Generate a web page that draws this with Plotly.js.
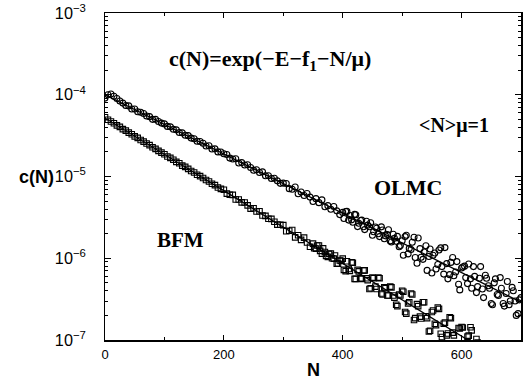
<!DOCTYPE html>
<html>
<head>
<meta charset="utf-8">
<script src="https://cdn.plot.ly/plotly-3.0.1.min.js"></script>
<style>
  html, body { margin: 0; padding: 0; background: #fff; }
  #chart { width: 523px; height: 379px; }
</style>
</head>
<body>
<div id="chart"></div>
<script>
// Chain length grids (step 5) for the two simulation methods
const nStep = 5;
const olmcN = Array.from({length: 141}, (_, i) => i * nStep);        // 0 … 700
const bfmN  = Array.from({length: 127}, (_, i) => i * nStep);        // 0 … 630
// extra samples in the noisy tails
const olmcTailN = Array.from({length: 60}, (_, i) => 402 + i * nStep); // 402 … 697
const bfmTailN  = Array.from({length: 56}, (_, i) => 352 + i * nStep); // 352 … 627

// OLMC: concentration c(N)
const olmcC = [
  9.1e-5, 1.00e-4, 1.02e-4, 9.6e-5, 9.0e-5, 8.4e-5, 7.9e-5, 7.4e-5, 7.3e-5, 6.7e-5,
  6.7e-5, 6.2e-5, 6.1e-5, 5.9e-5, 5.5e-5, 5.4e-5, 5.0e-5, 5.0e-5, 4.7e-5, 4.5e-5,
  4.4e-5, 4.1e-5, 4.05e-5, 3.78e-5, 3.72e-5, 3.45e-5, 3.42e-5, 3.19e-5, 3.16e-5, 2.95e-5,
  2.90e-5, 2.70e-5, 2.68e-5, 2.55e-5, 2.36e-5, 2.38e-5, 2.17e-5, 2.18e-5, 2.00e-5, 1.99e-5,
  1.90e-5, 1.86e-5, 1.68e-5, 1.64e-5, 1.65e-5, 1.46e-5, 1.48e-5, 1.38e-5, 1.39e-5, 1.29e-5,
  1.19e-5, 1.21e-5, 1.12e-5, 1.14e-5, 1.02e-5, 1.02e-5, 9.45e-6, 9.52e-6, 8.85e-6, 8.24e-6,
  8.3e-6, 8.2e-6, 7.1e-6, 6.97e-6, 7.44e-6, 6.16e-6, 6.47e-6, 5.85e-6, 6.19e-6, 5.60e-6,
  4.94e-6, 5.36e-6, 4.79e-6, 5.17e-6, 4.27e-6, 4.40e-6, 3.97e-6, 4.29e-6, 3.80e-6, 3.42e-6,
  3.64e-6, 3.73e-6, 2.93e-6, 2.95e-6, 3.44e-6, 2.44e-6, 2.89e-6, 2.43e-6, 2.83e-6, 2.43e-6,
  1.91e-6, 2.41e-6, 1.99e-6, 2.42e-6, 1.73e-6, 1.95e-6, 1.63e-6, 1.97e-6, 1.61e-6, 1.38e-6,
  1.64e-6, 1.84e-6, 1.13e-6, 1.28e-6, 1.81e-6, 8.7e-7, 1.31e-6, 9.7e-7, 1.42e-6, 1.05e-6,
  6.6e-7, 1.16e-6, 8.4e-7, 1.34e-6, 6.4e-7, 8.6e-7, 6.3e-7, 1.02e-6, 6.8e-7, 4.8e-7,
  7.6e-7, 8.0e-7, 4.9e-7, 5.6e-7, 7.9e-7, 3.8e-7, 5.7e-7, 4.2e-7, 6.2e-7, 4.6e-7,
  2.8e-7, 5.0e-7, 3.6e-7, 5.8e-7, 2.8e-7, 3.7e-7, 2.7e-7, 4.4e-7, 3.0e-7, 2.1e-7,
  3.3e-7
];
const olmcTailC = [
  3.06e-6, 3.74e-6, 3.33e-6, 2.76e-6, 3.41e-6, 2.68e-6, 2.93e-6, 2.24e-6, 2.54e-6, 2.72e-6,
  2.11e-6, 2.33e-6, 1.84e-6, 2.22e-6, 1.88e-6, 2.23e-6, 1.58e-6, 1.76e-6, 1.85e-6, 1.43e-6,
  1.09e-6, 1.91e-6, 1.32e-6, 1.57e-6, 1.02e-6, 1.77e-6, 1.03e-6, 1.19e-6, 7.1e-7, 1.30e-6,
  1.09e-6, 7.4e-7, 1.26e-6, 7.9e-7, 1.35e-6, 5.6e-7, 8.9e-7, 6.1e-7, 9.1e-7, 4.1e-7,
  7.8e-7, 5.8e-7, 8.5e-7, 4.3e-7, 6.0e-7, 4.5e-7, 7.9e-7, 3.3e-7, 5.7e-7, 4.3e-7,
  2.7e-7, 5.6e-7, 3.5e-7, 4.3e-7, 2.6e-7, 5.2e-7, 3.0e-7, 4.0e-7, 2.0e-7, 3.1e-7
];

// BFM: concentration c(N)
const bfmC = [
  5.3e-5, 4.95e-5, 4.70e-5, 4.48e-5, 4.22e-5, 4.05e-5, 3.80e-5, 3.64e-5, 3.44e-5, 3.29e-5,
  3.10e-5, 2.97e-5, 2.80e-5, 2.67e-5, 2.53e-5, 2.42e-5, 2.28e-5, 2.18e-5, 2.06e-5, 1.96e-5,
  1.87e-5, 1.76e-5, 1.69e-5, 1.60e-5, 1.51e-5, 1.45e-5, 1.36e-5, 1.31e-5, 1.24e-5, 1.17e-5,
  1.12e-5, 1.05e-5, 1.01e-5, 9.6e-6, 9.05e-6, 8.7e-6, 8.15e-6, 7.85e-6, 7.35e-6, 7.05e-6,
  6.89e-6, 6.17e-6, 5.98e-6, 5.96e-6, 5.23e-6, 5.23e-6, 4.82e-6, 4.81e-6, 4.44e-6, 4.05e-6,
  4.09e-6, 3.73e-6, 3.76e-6, 3.33e-6, 3.30e-6, 3.04e-6, 3.03e-6, 2.80e-6, 2.58e-6, 2.57e-6,
  2.54e-6, 2.14e-6, 2.17e-6, 2.22e-6, 1.80e-6, 1.91e-6, 1.68e-6, 1.79e-6, 1.56e-6, 1.38e-6,
  1.51e-6, 1.31e-6, 1.43e-6, 1.14e-6, 1.19e-6, 1.04e-6, 1.14e-6, 9.9e-7, 8.6e-7, 9.4e-7,
  9.9e-7, 6.95e-7, 7.4e-7, 8.9e-7, 5.6e-7, 7.2e-7, 5.7e-7, 7.1e-7, 5.7e-7, 4.2e-7,
  5.8e-7, 4.5e-7, 5.8e-7, 3.7e-7, 4.4e-7, 3.5e-7, 4.5e-7, 3.5e-7, 2.7e-7, 3.6e-7,
  4.0e-7, 2.2e-7, 2.8e-7, 3.7e-7, 1.76e-7, 2.75e-7, 1.93e-7, 2.9e-7, 1.95e-7, 1.27e-7,
  2.2e-7, 1.58e-7, 2.5e-7, 1.19e-7, 1.58e-7, 1.14e-7, 1.9e-7, 1.23e-7, 8.6e-8, 1.4e-7,
  1.44e-7, 8.4e-8, 1.1e-7, 1.43e-7, 8.1e-8, 1.03e-7, 6.9e-8
];
const bfmTailC = [
  1.33e-6, 1.43e-6, 1.23e-6, 1.32e-6, 1.07e-6, 1.13e-6, 1.00e-6, 1.08e-6, 8.6e-7, 9.3e-7,
  7.2e-7, 9.2e-7, 7.0e-7, 8.8e-7, 5.6e-7, 6.9e-7, 5.6e-7, 7.1e-7, 5.4e-7, 4.3e-7,
  5.7e-7, 4.2e-7, 5.7e-7, 3.6e-7, 4.3e-7, 3.5e-7, 4.4e-7, 3.3e-7, 2.6e-7, 3.5e-7,
  3.9e-7, 2.1e-7, 2.9e-7, 3.6e-7, 1.85e-7, 2.6e-7, 1.83e-7, 2.9e-7, 1.85e-7, 1.30e-7,
  2.3e-7, 1.52e-7, 2.4e-7, 1.09e-7, 1.63e-7, 1.20e-7, 1.85e-7, 1.14e-7, 9.0e-8, 1.38e-7,
  1.42e-7, 8.3e-8, 1.13e-7, 1.31e-7, 7.8e-8, 9.3e-8
];

// Exponential fits c(N) = exp(-E - f1 - N/mu), straight on the log axis
const olmcFitN = [0, 700];
const olmcFitC = [1.0e-4, 2.9e-7];
const bfmFitN  = [0, 700];
const bfmFitC  = [5.2e-5, 4.0e-8];

const xTicks = [0, 200, 400, 600];

const circle = {symbol: 'circle-open', size: 6, color: '#000', line: {width: 1.1, color: '#000'}};
const square = {symbol: 'square-open', size: 5.5, color: '#000', line: {width: 1.1, color: '#000'}};

const traces = [
  {x: olmcN, y: olmcC, type: 'scatter', mode: 'markers', name: 'OLMC', marker: circle},
  {x: olmcTailN, y: olmcTailC, type: 'scatter', mode: 'markers', name: 'OLMC', marker: circle},
  {x: bfmN, y: bfmC, type: 'scatter', mode: 'markers', name: 'BFM', marker: square},
  {x: bfmTailN, y: bfmTailC, type: 'scatter', mode: 'markers', name: 'BFM', marker: square},
  {x: olmcFitN, y: olmcFitC, type: 'scatter', mode: 'lines', line: {color: '#000', width: 1.3}},
  {x: bfmFitN, y: bfmFitC, type: 'scatter', mode: 'lines', line: {color: '#000', width: 1.3}}
];

const tickFont = {family: 'Liberation Sans, Arial, sans-serif', size: 13, color: '#000'};
const serifBold = {family: 'Liberation Serif, Times New Roman, serif', color: '#000'};

const layout = {
  width: 523, height: 379,
  margin: {l: 105, r: 2, t: 13, b: 39},
  paper_bgcolor: '#fff', plot_bgcolor: '#fff',
  showlegend: false,
  xaxis: {
    range: [0, 700], tickvals: xTicks, ticktext: xTicks.map(String),
    ticks: 'inside', ticklen: 5, tickwidth: 1, tickcolor: '#000',
    minor: {ticks: 'inside', ticklen: 3, dtick: 100, tickcolor: '#000'},
    showline: true, linecolor: '#000', linewidth: 1.5, mirror: 'ticks',
    showgrid: false, zeroline: false, tickfont: tickFont, ticklabelstandoff: 2
  },
  yaxis: {
    type: 'log', range: [-7, -3], dtick: 1, exponentformat: 'power',
    ticks: 'inside', ticklen: 6, tickwidth: 1, tickcolor: '#000',
    minor: {ticks: 'inside', ticklen: 3, dtick: 'D1', tickcolor: '#000'},
    showline: true, linecolor: '#000', linewidth: 1.5, mirror: 'ticks',
    showgrid: false, zeroline: false, tickfont: tickFont, ticklabelstandoff: 15
  },
  annotations: [
    {text: '<b>c(N)=exp(\u2212E\u2212f<sub>1</sub>\u2212N/\u03bc)</b>', xref: 'paper', yref: 'paper',
     x: 0.148, y: 0.855, xanchor: 'left', yanchor: 'middle', showarrow: false,
     font: Object.assign({size: 22}, serifBold)},
    {text: '<b>&lt;N&gt;\u03bc=1</b>', xref: 'paper', yref: 'paper',
     x: 0.750, y: 0.655, xanchor: 'left', yanchor: 'middle', showarrow: false,
     font: Object.assign({size: 20}, serifBold)},
    {text: '<b>OLMC</b>', xref: 'paper', yref: 'paper',
     x: 0.643, y: 0.465, xanchor: 'left', yanchor: 'middle', showarrow: false,
     font: Object.assign({size: 22}, serifBold)},
    {text: '<b>BFM</b>', xref: 'paper', yref: 'paper',
     x: 0.120, y: 0.305, xanchor: 'left', yanchor: 'middle', showarrow: false,
     font: Object.assign({size: 21}, serifBold)},
    {text: '<b>c(N)</b>', xref: 'paper', yref: 'paper',
     x: -0.118, y: 0.497, xanchor: 'right', yanchor: 'middle', showarrow: false,
     font: {family: 'Liberation Sans, Arial, sans-serif', size: 18, color: '#000'}},
    {text: '<b>N</b>', xref: 'paper', yref: 'paper',
     x: 0.500, y: -0.092, xanchor: 'center', yanchor: 'middle', showarrow: false,
     font: {family: 'Liberation Sans, Arial, sans-serif', size: 18, color: '#000'}}
  ]
};

Plotly.newPlot('chart', traces, layout, {displayModeBar: false, staticPlot: true});
</script>
</body>
</html>
